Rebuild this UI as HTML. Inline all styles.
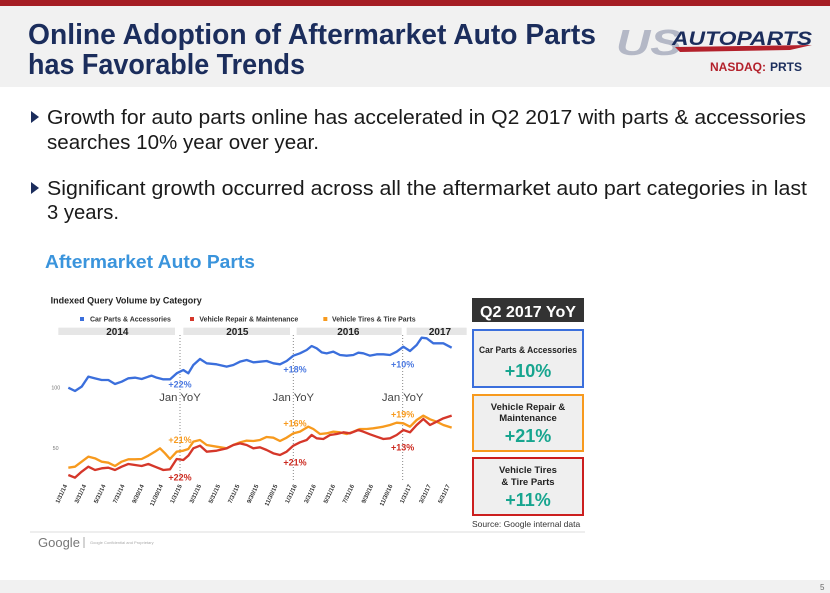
<!DOCTYPE html>
<html><head><meta charset="utf-8"><style>
html,body{margin:0;padding:0;background:#fff;}
svg{display:block;font-family:"Liberation Sans",sans-serif;}
</style></head><body>
<svg width="830" height="593" viewBox="0 0 830 593" xmlns="http://www.w3.org/2000/svg">
<rect x="0" y="0" width="830" height="87" fill="#f1f1f1"/>
<rect x="0" y="0" width="830" height="6" fill="#a51d24"/>
<text x="28" y="44" font-size="29" font-weight="bold" fill="#1b2d5c" textLength="568" lengthAdjust="spacingAndGlyphs">Online Adoption of Aftermarket Auto Parts</text>
<text x="28" y="74" font-size="29" font-weight="bold" fill="#1b2d5c" textLength="277" lengthAdjust="spacingAndGlyphs">has Favorable Trends</text>
<text x="616" y="55" font-size="36" font-weight="bold" font-style="italic" fill="#b4b8c6" textLength="66" lengthAdjust="spacingAndGlyphs">US</text>
<text x="672" y="45" font-size="19" font-weight="bold" font-style="italic" fill="#1b2d5c" textLength="140" lengthAdjust="spacingAndGlyphs">AUTOPARTS</text>
<path d="M675 47 L812 45 L790 50 L680 52 Z" fill="#b3212b"/>
<text x="710" y="71" font-size="12" font-weight="bold" fill="#b3212b">NASDAQ:</text>
<text x="770" y="71" font-size="12" font-weight="bold" fill="#1b2d5c">PRTS</text>
<g font-size="20" fill="#1a1a1a">
<path d="M31 111 L39 117 L31 123 Z" fill="#1b2d5c"/>
<text x="47" y="124" textLength="759" lengthAdjust="spacingAndGlyphs">Growth for auto parts online has accelerated in Q2 2017 with parts &amp; accessories</text>
<text x="47" y="149" textLength="272" lengthAdjust="spacingAndGlyphs">searches 10% year over year.</text>
<path d="M31 182 L39 188 L31 194 Z" fill="#1b2d5c"/>
<text x="47" y="195" textLength="760" lengthAdjust="spacingAndGlyphs">Significant growth occurred across all the aftermarket auto part categories in last</text>
<text x="47" y="219" textLength="72" lengthAdjust="spacingAndGlyphs">3 years.</text>
</g>
<text x="45" y="268" font-size="18" font-weight="bold" fill="#3a94dc" textLength="210" lengthAdjust="spacingAndGlyphs">Aftermarket Auto Parts</text>
<g transform="translate(30,285) scale(0.33333)">
<text x="62" y="56" font-size="27" font-weight="bold" fill="#222">Indexed Query Volume by Category</text>
<g font-size="21" font-weight="bold" fill="#333">
<rect x="150" y="96" width="12" height="12" fill="#3b6fdc"/><text x="180" y="110">Car Parts &amp; Accessories</text>
<rect x="480" y="96" width="12" height="12" fill="#d5372a"/><text x="508" y="110">Vehicle Repair &amp; Maintenance</text>
<rect x="880" y="96" width="12" height="12" fill="#f79a1e"/><text x="906" y="110">Vehicle Tires &amp; Tire Parts</text>
</g>
<g fill="#e6e6e6"><rect x="85" y="128" width="350" height="22"/><rect x="460" y="128" width="320" height="22"/><rect x="800" y="128" width="315" height="22"/><rect x="1130" y="128" width="180" height="22"/></g>
<g font-size="30" font-weight="bold" fill="#222" text-anchor="middle"><text x="262" y="150">2014</text><text x="622" y="150">2015</text><text x="955" y="150">2016</text><text x="1230" y="150">2017</text></g>
<g stroke="#888" stroke-width="3" stroke-dasharray="3,6"><line x1="450" y1="150" x2="450" y2="585"/><line x1="790" y1="150" x2="790" y2="585"/><line x1="1118" y1="150" x2="1118" y2="585"/></g>
<text x="64" y="314" font-size="16" fill="#777">100</text>
<text x="68" y="495" font-size="16" fill="#777">50</text>
<polyline fill="none" stroke="#f79a1e" stroke-width="7" stroke-linejoin="round" points="115,548 135,545 155,530 175,515 195,520 215,530 235,533 255,543 275,530 295,523 315,523 335,522 355,512 375,500 390,490 405,505 420,522 440,500 460,497 475,492 490,470 510,465 530,480 560,485 590,490 610,480 630,472 650,467 670,468 690,465 710,456 730,458 750,468 770,458 790,445 810,440 835,425 850,432 870,447 890,445 910,440 930,442 950,447 970,440 990,432 1010,432 1030,430 1060,425 1080,420 1100,413 1120,415 1140,425 1160,405 1180,392 1200,403 1220,410 1240,420 1265,428"/>
<polyline fill="none" stroke="#d5372a" stroke-width="7" stroke-linejoin="round" points="115,570 135,578 155,560 175,545 195,555 215,550 235,548 255,555 275,545 295,537 315,540 335,543 355,537 375,545 400,555 420,553 440,522 460,525 475,512 490,490 510,482 530,500 560,497 590,490 610,480 630,475 650,480 670,490 690,487 710,495 730,505 750,510 770,500 790,482 810,472 830,465 845,450 860,460 880,462 900,450 920,447 940,442 960,445 985,435 1000,440 1020,448 1040,455 1060,462 1080,460 1100,450 1120,435 1140,442 1160,420 1180,402 1200,420 1220,410 1240,400 1265,392"/>
<polyline fill="none" stroke="#3b6fdc" stroke-width="7" stroke-linejoin="round" points="115,308 135,318 155,305 175,275 195,280 215,285 235,285 255,297 275,290 295,280 315,278 335,282 355,275 365,272 380,278 400,283 420,283 440,265 460,255 475,265 490,240 510,222 530,235 560,238 590,245 610,240 630,230 650,225 670,232 690,230 710,228 730,235 750,238 770,228 790,212 810,205 830,195 845,183 860,190 875,202 890,205 910,200 930,210 950,212 970,210 985,203 1000,205 1020,212 1040,208 1060,208 1080,210 1100,200 1120,185 1140,198 1160,180 1175,158 1190,160 1210,175 1240,175 1265,188"/>
<g font-size="27" font-weight="bold" text-anchor="middle">
<text x="450" y="308" fill="#4a78e0">+22%</text><text x="795" y="262" fill="#4a78e0">+18%</text><text x="1118" y="248" fill="#4a78e0">+10%</text>
<text x="450" y="474" fill="#f79a1e">+21%</text><text x="795" y="425" fill="#f79a1e">+16%</text><text x="1118" y="397" fill="#f79a1e">+19%</text>
<text x="450" y="586" fill="#cc2a20">+22%</text><text x="795" y="541" fill="#cc2a20">+21%</text><text x="1118" y="497" fill="#cc2a20">+13%</text>
</g>
<g font-size="34" fill="#444" text-anchor="middle"><text x="450" y="348">Jan YoY</text><text x="790" y="348">Jan YoY</text><text x="1118" y="348">Jan YoY</text></g>
<g font-size="18" font-weight="bold" fill="#333" text-anchor="end">
<text transform="translate(112,602) rotate(-65)">1/31/14</text>
<text transform="translate(169,602) rotate(-65)">3/31/14</text>
<text transform="translate(227,602) rotate(-65)">5/31/14</text>
<text transform="translate(284,602) rotate(-65)">7/31/14</text>
<text transform="translate(342,602) rotate(-65)">9/30/14</text>
<text transform="translate(399,602) rotate(-65)">11/30/14</text>
<text transform="translate(456,602) rotate(-65)">1/31/15</text>
<text transform="translate(514,602) rotate(-65)">3/31/15</text>
<text transform="translate(571,602) rotate(-65)">5/31/15</text>
<text transform="translate(629,602) rotate(-65)">7/31/15</text>
<text transform="translate(686,602) rotate(-65)">9/30/15</text>
<text transform="translate(743,602) rotate(-65)">11/30/15</text>
<text transform="translate(801,602) rotate(-65)">1/31/16</text>
<text transform="translate(858,602) rotate(-65)">3/31/16</text>
<text transform="translate(916,602) rotate(-65)">5/31/16</text>
<text transform="translate(973,602) rotate(-65)">7/31/16</text>
<text transform="translate(1030,602) rotate(-65)">9/30/16</text>
<text transform="translate(1088,602) rotate(-65)">11/30/16</text>
<text transform="translate(1145,602) rotate(-65)">1/31/17</text>
<text transform="translate(1203,602) rotate(-65)">3/31/17</text>
<text transform="translate(1260,602) rotate(-65)">5/31/17</text>
</g>
</g>
<rect x="472" y="298" width="112" height="24" fill="#333"/>
<text x="528" y="317" font-size="16" font-weight="bold" fill="#fff" text-anchor="middle" textLength="96" lengthAdjust="spacingAndGlyphs">Q2 2017 YoY</text>
<rect x="473" y="330" width="110" height="57" fill="#efefef" stroke="#3b6fdc" stroke-width="2"/>
<text x="528" y="353" font-size="9.5" font-weight="bold" fill="#222" text-anchor="middle" textLength="98" lengthAdjust="spacingAndGlyphs">Car Parts &amp; Accessories</text>
<text x="528" y="377" font-size="18" font-weight="bold" fill="#17a58f" text-anchor="middle">+10%</text>
<rect x="473" y="395" width="110" height="56" fill="#efefef" stroke="#f79a1e" stroke-width="2"/>
<text x="528" y="410" font-size="9.5" font-weight="bold" fill="#222" text-anchor="middle">Vehicle Repair &amp;</text>
<text x="528" y="421" font-size="9.5" font-weight="bold" fill="#222" text-anchor="middle">Maintenance</text>
<text x="528" y="442" font-size="18" font-weight="bold" fill="#17a58f" text-anchor="middle">+21%</text>
<rect x="473" y="458" width="110" height="57" fill="#efefef" stroke="#cc1f1f" stroke-width="2"/>
<text x="528" y="473" font-size="9.5" font-weight="bold" fill="#222" text-anchor="middle">Vehicle Tires</text>
<text x="528" y="485" font-size="9.5" font-weight="bold" fill="#222" text-anchor="middle">&amp; Tire Parts</text>
<text x="528" y="506" font-size="18" font-weight="bold" fill="#17a58f" text-anchor="middle">+11%</text>
<text x="472" y="527" font-size="8.5" fill="#333">Source: Google internal data</text>
<line x1="30" y1="532" x2="585" y2="532" stroke="#ddd" stroke-width="1"/>
<text x="38" y="547" font-size="13" fill="#777">Google</text>
<line x1="84" y1="537" x2="84" y2="548" stroke="#aaa"/>
<text x="90" y="544" font-size="4" fill="#aaa">Google Confidential and Proprietary</text>
<rect x="0" y="580" width="830" height="13" fill="#f1f1f1"/>
<text x="820" y="590" font-size="8" fill="#666">5</text>
</svg>
</body></html>
